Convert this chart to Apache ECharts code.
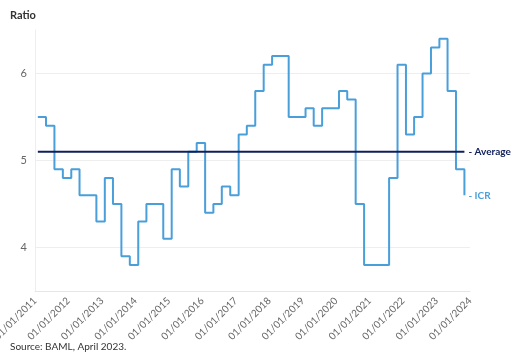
<!DOCTYPE html>
<html>
<head>
<meta charset="utf-8">
<script src="https://cdn.jsdelivr.net/npm/echarts@6/dist/echarts.min.js"></script>
<style>
html,body{margin:0;padding:0;background:#fff;}
#c{width:517px;height:360px;}
</style>
</head>
<body>
<div id="c"></div>
<script>
var dates = [
  '2011-02-01','2011-05-01','2011-08-01','2011-11-01',
  '2012-02-01','2012-05-01','2012-08-01','2012-11-01',
  '2013-02-01','2013-05-01','2013-08-01','2013-11-01',
  '2014-02-01','2014-05-01','2014-08-01','2014-11-01',
  '2015-02-01','2015-05-01','2015-08-01','2015-11-01',
  '2016-02-01','2016-05-01','2016-08-01','2016-11-01',
  '2017-02-01','2017-05-01','2017-08-01','2017-11-01',
  '2018-02-01','2018-05-01','2018-08-01','2018-11-01',
  '2019-02-01','2019-05-01','2019-08-01','2019-11-01',
  '2020-02-01','2020-05-01','2020-08-01','2020-11-01',
  '2021-02-01','2021-05-01','2021-08-01','2021-11-01',
  '2022-02-01','2022-05-01','2022-08-01','2022-11-01',
  '2023-02-01','2023-05-01','2023-08-01','2023-11-01'
];
var icr = [
  5.5, 5.4, 4.9, 4.8,
  4.9, 4.6, 4.6, 4.3,
  4.8, 4.5, 3.9, 3.8,
  4.3, 4.5, 4.5, 4.1,
  4.9, 4.7, 5.1, 5.2,
  4.4, 4.5, 4.7, 4.6,
  5.3, 5.4, 5.8, 6.1,
  6.2, 6.2, 5.5, 5.5,
  5.6, 5.4, 5.6, 5.6,
  5.8, 5.7, 4.5, 3.8,
  3.8, 3.8, 4.8, 6.1,
  5.3, 5.5, 6.0, 6.3,
  6.4, 5.8, 4.9, 4.6
];
var averageValue = 5.1;
var yTicks = [4, 5, 6];
var axisStart = '2011-01-01';
var axisEnd = '2024-01-01';

var icrData = dates.map(function (d, i) { return [d, icr[i]]; });
var avgData = [[dates[0], averageValue], [dates[dates.length - 1], averageValue]];

var FONT = 'Lato, "Noto Sans", sans-serif';
var chart = echarts.init(document.getElementById('c'), null, {renderer: 'canvas'});
var YEAR = 365 * 24 * 3600 * 1000;
chart.setOption({
  animation: false,
  backgroundColor: '#fff',
  textStyle: {fontFamily: FONT},
  graphic: [
    {type: 'text', left: 10, top: 10, style: {text: 'Ratio', fontSize: 11, fontWeight: 'bold', fill: '#333', fontFamily: FONT}},
    {type: 'text', left: 10, top: 342, style: {text: 'Source: BAML, April 2023.', fontSize: 10, fill: '#333', fontFamily: FONT}}
  ],
  grid: {left: 35, right: 47, top: 30, bottom: 69, containLabel: false, outerBoundsMode: 'none'},
  xAxis: {
    type: 'time',
    min: axisStart,
    max: axisEnd,
    splitNumber: 13,
    minInterval: YEAR,
    maxInterval: YEAR + 24 * 3600 * 1000,
    axisLine: {show: true, lineStyle: {color: '#e6e6e6', width: 1}},
    axisTick: {show: false},
    splitLine: {show: false},
    axisLabel: {
      rotate: 45,
      fontSize: 10,
      color: '#666',
      fontFamily: FONT,
      showMinLabel: true,
      showMaxLabel: true,
      hideOverlap: false,
      formatter: function (v) {
        var d = new Date(v);
        var dd = ('0' + d.getDate()).slice(-2);
        var mm = ('0' + (d.getMonth() + 1)).slice(-2);
        return dd + '/' + mm + '/' + d.getFullYear();
      }
    }
  },
  yAxis: {
    type: 'value',
    min: 3.5,
    max: 6.5,
    interval: 0.5,
    axisLine: {show: true, lineStyle: {color: '#eeeeee'}},
    axisTick: {show: false},
    splitLine: {show: true, lineStyle: {color: ['transparent', '#eeeeee'], width: 1}},
    axisLabel: {
      fontSize: 11,
      color: '#666',
      margin: 8,
      fontFamily: FONT,
      formatter: function (v) { return yTicks.indexOf(v) >= 0 ? String(v) : ''; }
    }
  },
  series: [
    {
      name: 'ICR',
      type: 'line',
      step: 'end',
      data: icrData,
      symbol: 'none',
      lineStyle: {color: '#4a9fdb', width: 2},
      itemStyle: {color: '#4a9fdb'},
      endLabel: {show: true, formatter: '- ICR', color: '#4a9fdb', fontSize: 10, fontWeight: 'bold', distance: 4, fontFamily: FONT},
      z: 2
    },
    {
      name: 'Average',
      type: 'line',
      data: avgData,
      symbol: 'none',
      lineStyle: {color: '#101f5b', width: 2},
      itemStyle: {color: '#101f5b'},
      endLabel: {show: true, formatter: '- Average', color: '#101f5b', fontSize: 10, fontWeight: 'bold', distance: 4, fontFamily: FONT},
      z: 3
    }
  ]
});
</script>
</body>
</html>
